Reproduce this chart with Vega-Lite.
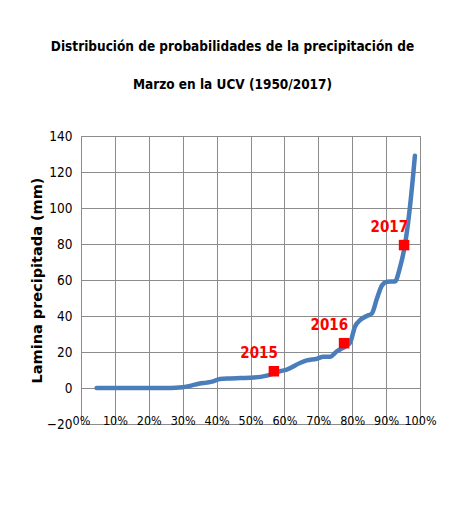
{
  "$schema": "https://vega.github.io/schema/vega-lite/v6.json",
  "width": 339,
  "height": 288,
  "autosize": {"type": "none"},
  "padding": {"left": 81, "top": 136, "right": 30, "bottom": 94},
  "background": "white",
  "title": {
    "text": ["Distribución de probabilidades de la precipitación de", "Marzo en la UCV (1950/2017)"],
    "font": "DejaVu Sans Condensed",
    "fontSize": 13.5,
    "fontWeight": "bold",
    "color": "#000000",
    "lineHeight": 38,
    "anchor": "middle",
    "dx": -18,
    "offset": 38
  },
  "datasets": {
    "curve": [
      {"p": 0.046, "mm": 0},
      {"p": 0.10, "mm": 0},
      {"p": 0.15, "mm": 0},
      {"p": 0.20, "mm": 0},
      {"p": 0.25, "mm": 0},
      {"p": 0.28, "mm": 0.1},
      {"p": 0.30, "mm": 0.4},
      {"p": 0.325, "mm": 1.3},
      {"p": 0.35, "mm": 2.5},
      {"p": 0.37, "mm": 3.0},
      {"p": 0.39, "mm": 3.7},
      {"p": 0.41, "mm": 5.0},
      {"p": 0.44, "mm": 5.3},
      {"p": 0.47, "mm": 5.5},
      {"p": 0.51, "mm": 5.8},
      {"p": 0.548, "mm": 6.9},
      {"p": 0.587, "mm": 9.3},
      {"p": 0.607, "mm": 10.2},
      {"p": 0.646, "mm": 13.9},
      {"p": 0.666, "mm": 15.3},
      {"p": 0.695, "mm": 16.2},
      {"p": 0.715, "mm": 17.4},
      {"p": 0.735, "mm": 17.4},
      {"p": 0.754, "mm": 20.3},
      {"p": 0.784, "mm": 23.6},
      {"p": 0.794, "mm": 25.2},
      {"p": 0.808, "mm": 34},
      {"p": 0.823, "mm": 37.7},
      {"p": 0.843, "mm": 40},
      {"p": 0.858, "mm": 41.4},
      {"p": 0.873, "mm": 49.7},
      {"p": 0.888, "mm": 57},
      {"p": 0.903, "mm": 59},
      {"p": 0.926, "mm": 59.2},
      {"p": 0.941, "mm": 67},
      {"p": 0.956, "mm": 80},
      {"p": 0.970, "mm": 100},
      {"p": 0.980, "mm": 118.7},
      {"p": 0.985, "mm": 129}
    ],
    "years": [
      {"p": 0.569, "mm": 9.3, "year": "2015"},
      {"p": 0.776, "mm": 24.9, "year": "2016"},
      {"p": 0.953, "mm": 79.4, "year": "2017"}
    ]
  },
  "encoding": {
    "x": {
      "field": "p", "type": "quantitative",
      "scale": {"domain": [0, 1], "nice": false, "zero": false},
      "axis": {
        "title": null, "format": ".0%", "values": [0, 0.1, 0.2, 0.3, 0.4, 0.5, 0.6, 0.7, 0.8, 0.9, 1],
        "grid": true, "gridColor": "#8c8c8c", "gridWidth": 1, "gridOpacity": 1,
        "domain": false, "ticks": false, "tickSize": 0,
        "labelFont": "DejaVu Sans Condensed", "labelFontSize": 12.5, "labelColor": "#000000",
        "labelBaseline": "middle", "labelPadding": -4, "labelFlush": false, "labelOverlap": false
      }
    },
    "y": {
      "field": "mm", "type": "quantitative",
      "scale": {"domain": [-20, 140], "nice": false, "zero": false},
      "axis": {
        "title": "Lamina precipitada (mm)", "values": [-20, 0, 20, 40, 60, 80, 100, 120, 140],
        "titleFont": "DejaVu Sans", "titleFontSize": 14.5, "titleFontWeight": "bold", "titleColor": "#000000",
        "titlePadding": 2,
        "grid": true, "gridColor": "#8c8c8c", "gridWidth": 1, "gridOpacity": 1,
        "domain": false, "ticks": false, "tickSize": 0,
        "labelFont": "DejaVu Sans Condensed", "labelFontSize": 13.5, "labelColor": "#000000",
        "labelPadding": 9, "labelFlush": false, "labelOverlap": false
      }
    }
  },
  "layer": [
    {
      "data": {"name": "curve"},
      "mark": {"type": "line", "interpolate": "monotone", "color": "#4a7ebb", "strokeWidth": 4.5, "strokeCap": "round"}
    },
    {
      "data": {"name": "years"},
      "mark": {"type": "point", "shape": "square", "filled": true, "color": "#ff0000", "size": 110, "opacity": 1}
    },
    {
      "data": {"name": "years"},
      "mark": {"type": "text", "align": "right", "baseline": "bottom", "dx": 4, "dy": -10, "color": "#ff0000", "font": "DejaVu Sans Condensed", "fontSize": 15, "fontWeight": "bold"},
      "encoding": {"text": {"field": "year"}}
    }
  ],
  "config": {
    "view": {"stroke": "#8c8c8c", "strokeWidth": 1}
  }
}
